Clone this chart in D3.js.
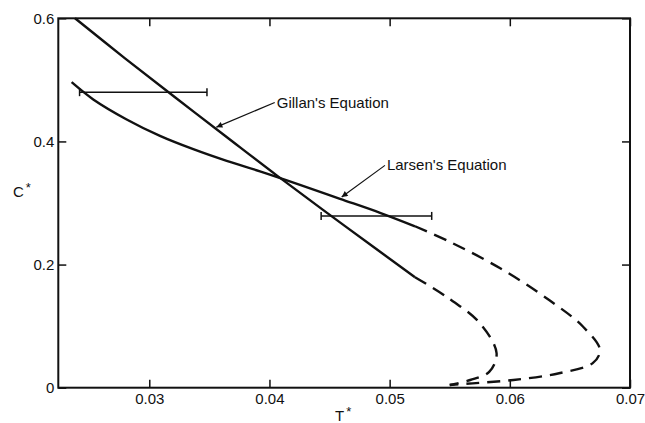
<!DOCTYPE html>
<html>
<head>
<meta charset="utf-8">
<script src="https://cdn.jsdelivr.net/npm/d3@7"></script>
<style>
  html, body { margin: 0; padding: 0; background: #fff; }
  svg { display: block; font-family: "Liberation Sans", Arial, Helvetica, sans-serif; }
</style>
</head>
<body>
<svg id="chart" width="645" height="423"></svg>
<script>
// ---- Data ----
const xTicks = [0.03, 0.04, 0.05, 0.06, 0.07];
const yTicks = [0, 0.2, 0.4, 0.6];

// Gillan's equation: solid part [T*, C*]
const gillanSolid = [
  [0.02382, 0.600], [0.02798, 0.535], [0.03214, 0.4717], [0.03630, 0.4093],
  [0.04060, 0.3449], [0.04629, 0.2624], [0.05211, 0.1795]
];
// Gillan's equation: dashed continuation
const gillanDashed = [
  [0.05211, 0.1795], [0.0547, 0.148], [0.0575, 0.105], [0.0589, 0.056],
  [0.0583, 0.026], [0.0567, 0.0125], [0.0550, 0.0044]
];
// Larsen's equation: solid part
const larsenSolid = [
  [0.02354, 0.4962], [0.02534, 0.4682], [0.02812, 0.4357], [0.03089, 0.4090],
  [0.03366, 0.3874], [0.03644, 0.3684], [0.03921, 0.3514], [0.04254, 0.3295],
  [0.04587, 0.3068], [0.04920, 0.2841], [0.05211, 0.2622]
];
// Larsen's equation: dashed continuation
const larsenDashed = [
  [0.05211, 0.2622], [0.0550, 0.237], [0.0592, 0.194], [0.0633, 0.142],
  [0.0661, 0.099], [0.0675, 0.061], [0.0669, 0.040], [0.0641, 0.0234],
  [0.0603, 0.0125], [0.0569, 0.0071], [0.0550, 0.0044]
];
// Horizontal error bars: [T* low, T* high, C*]
const errorBars = [
  [0.0242, 0.0348, 0.480],
  [0.0443, 0.0535, 0.279]
];
// Annotations: label, arrow start / text anchor [T*, C*], arrow tip [T*, C*]
const annotations = [
  { label: "Gillan's Equation", text: [0.04044, 0.4632], tip: [0.03558, 0.4232] },
  { label: "Larsen's Equation", text: [0.04961, 0.3611], tip: [0.04601, 0.3097] }
];

// ---- Layout ----
const svg = d3.select("#chart");
const mLeft = 58.3, mRight = 630, mTop = 18.3, mBottom = 387.7;
const x = d3.scaleLinear().domain([0.02243, 0.07]).range([mLeft, mRight]);
const y = d3.scaleLinear().domain([0, 0.6]).range([mBottom, mTop]);
const ink = "#111";
const fontSize = 15;

// Axes with inward ticks
const fmtY = d => d === 0 ? "0" : d3.format(".1f")(d);
const fmtX = d3.format(".2f");

const gBottom = svg.append("g").attr("transform", `translate(0,${mBottom})`)
  .call(d3.axisBottom(x).tickValues(xTicks).tickFormat(fmtX).tickSizeInner(-8).tickSizeOuter(0).tickPadding(6));
const gLeft = svg.append("g").attr("transform", `translate(${mLeft},0)`)
  .call(d3.axisLeft(y).tickValues(yTicks).tickFormat(fmtY).tickSizeInner(-8).tickSizeOuter(0).tickPadding(4));
const gTop = svg.append("g").attr("transform", `translate(0,${mTop})`)
  .call(d3.axisTop(x).tickValues(xTicks).tickFormat("").tickSizeInner(-8).tickSizeOuter(0));
const gRight = svg.append("g").attr("transform", `translate(${mRight},0)`)
  .call(d3.axisRight(y).tickValues(yTicks).tickFormat("").tickSizeInner(-8).tickSizeOuter(0));

[gBottom, gLeft, gTop, gRight].forEach(g => {
  g.select(".domain").remove();
  g.selectAll(".tick line").attr("stroke", ink).attr("stroke-width", 1.5);
  g.selectAll(".tick text").attr("fill", ink).attr("font-size", fontSize)
    .attr("font-family", '"Liberation Sans", Arial, Helvetica, sans-serif');
});

// Frame
svg.append("rect")
  .attr("x", mLeft).attr("y", mTop)
  .attr("width", mRight - mLeft).attr("height", mBottom - mTop)
  .attr("fill", "none").attr("stroke", ink).attr("stroke-width", 2);

// Axis titles
const cTitle = svg.append("text").attr("x", 13).attr("y", 197)
  .attr("font-size", fontSize).attr("fill", ink);
cTitle.append("tspan").text("C");
cTitle.append("tspan").attr("dy", -5).attr("dx", 2).attr("font-size", 13).text("*");

const tTitle = svg.append("text").attr("x", 335).attr("y", 421)
  .attr("font-size", fontSize).attr("fill", ink);
tTitle.append("tspan").text("T");
tTitle.append("tspan").attr("dy", -5).attr("dx", 2).attr("font-size", 13).text("*");

// Curves
const line = d3.line().x(d => x(d[0])).y(d => y(d[1])).curve(d3.curveCatmullRom.alpha(0.5));

function drawCurve(data, dashed) {
  svg.append("path")
    .datum(data)
    .attr("d", line)
    .attr("fill", "none")
    .attr("stroke", ink)
    .attr("stroke-width", 2.4)
    .attr("stroke-dasharray", dashed ? "13,8" : null);
}
drawCurve(gillanSolid, false);
drawCurve(larsenSolid, false);
drawCurve(gillanDashed, true);
drawCurve(larsenDashed, true);

// Error bars
const capH = 4;
const eb = svg.append("g").attr("stroke", ink).attr("stroke-width", 1.5);
eb.selectAll("line.bar").data(errorBars).join("line").attr("class", "bar")
  .attr("x1", d => x(d[0])).attr("x2", d => x(d[1]))
  .attr("y1", d => y(d[2])).attr("y2", d => y(d[2]));
eb.selectAll("line.capL").data(errorBars).join("line").attr("class", "capL")
  .attr("x1", d => x(d[0])).attr("x2", d => x(d[0]))
  .attr("y1", d => y(d[2]) - capH).attr("y2", d => y(d[2]) + capH);
eb.selectAll("line.capR").data(errorBars).join("line").attr("class", "capR")
  .attr("x1", d => x(d[1])).attr("x2", d => x(d[1]))
  .attr("y1", d => y(d[2]) - capH).attr("y2", d => y(d[2]) + capH);

// Arrow marker
svg.append("defs").append("marker")
  .attr("id", "arrow").attr("viewBox", "0 0 10 10")
  .attr("refX", 10).attr("refY", 5)
  .attr("markerWidth", 10).attr("markerHeight", 6)
  .attr("markerUnits", "userSpaceOnUse")
  .attr("orient", "auto")
  .append("path").attr("d", "M0,0 L10,5 L0,10 Z").attr("fill", ink);

// Annotations
annotations.forEach(a => {
  svg.append("line")
    .attr("x1", x(a.text[0])).attr("y1", y(a.text[1]))
    .attr("x2", x(a.tip[0])).attr("y2", y(a.tip[1]))
    .attr("stroke", ink).attr("stroke-width", 1.2)
    .attr("marker-end", "url(#arrow)");
  svg.append("text")
    .attr("x", x(a.text[0]) + 2).attr("y", y(a.text[1]) + 5)
    .attr("font-size", fontSize).attr("fill", ink)
    .text(a.label);
});
</script>
</body>
</html>
